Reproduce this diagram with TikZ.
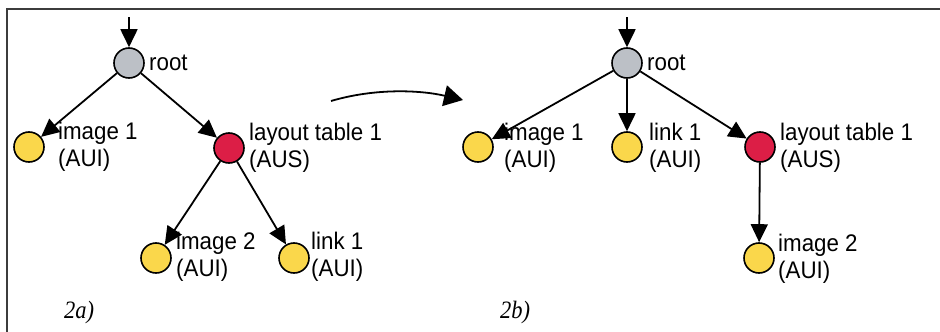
\documentclass[tikz,border=0pt]{standalone}
\usepackage{fontspec}
\usetikzlibrary{arrows.meta}
\newfontfamily\lblfont{Liberation Sans}[FakeStretch=0.93]
\newfontfamily\capfont{Liberation Serif}[FakeStretch=0.9]
\definecolor{nodegray}{RGB}{188,192,198}
\definecolor{nodered}{RGB}{220,30,70}
\definecolor{nodeyellow}{RGB}{250,215,75}
\definecolor{framegray}{RGB}{60,60,60}
\tikzset{
  vert/.style={circle, draw=black, line width=1.6pt, minimum size=30pt, inner sep=0pt},
  gvert/.style={vert, fill=nodegray},
  rvert/.style={vert, fill=nodered},
  yvert/.style={vert, fill=nodeyellow},
  lbl/.style={anchor=west, inner sep=0pt, align=left, font=\lblfont\fontsize{24}{27}\selectfont},
  captext/.style={inner sep=0pt, font=\capfont\itshape\fontsize{25}{27}\selectfont},
  edge/.style={line width=1.8pt, -{Triangle[length=18pt,width=17pt]}},
  bigedge/.style={line width=1.8pt, -{Triangle[length=19pt,width=21pt]}},
  frameline/.style={line width=1.6pt, draw=framegray}
}
\begin{document}
\begin{tikzpicture}[x=1pt,y=-1pt]
\useasboundingbox (0,0) rectangle (940,332);
% frame
\draw[frameline] (7,332) -- (7,9) -- (940,9);
% ---------- panel a ----------
\node[gvert] (ra) at (129,63) {};
\node[yvert] (i1a) at (29,147) {};
\node[rvert] (lta) at (229,148) {};
\node[yvert] (i2a) at (156,258) {};
\node[yvert] (l1a) at (294,258) {};
\coordinate (ina) at (129,17);
\node[lbl] (ra-l) at (149,63) {root};
\node[lbl] (i1a-l) at (58,147) {image 1\\(AUI)};
\node[lbl] (lta-l) at (249,148) {layout table 1\\(AUS)};
\node[lbl] (i2a-l) at (176,257) {image 2\\(AUI)};
\node[lbl] (l1a-l) at (311,257) {link 1\\(AUI)};
\draw[edge] (ina) -- (ra);
\draw[edge] (ra) -- (i1a);
\draw[edge] (ra) -- (lta);
\draw[edge] (lta) -- (i2a);
\draw[edge] (lta) -- (l1a);
\node[captext] (capa) at (79,312) {2a)};
% transform arrow
\coordinate (ts) at (331,101);
\coordinate (te) at (463,100);
\draw[bigedge] (ts) .. controls (375,88) and (420,90) .. (te);
% ---------- panel b ----------
\node[gvert] (rb) at (627,63) {};
\node[yvert] (i1b) at (478,147) {};
\node[yvert] (l1b) at (627,147) {};
\node[rvert] (ltb) at (760,147) {};
\node[yvert] (i2b) at (759,258) {};
\coordinate (inb) at (627,17);
\node[lbl] (rb-l) at (647,63) {root};
\node[lbl] (i1b-l) at (504,148) {image 1\\(AUI)};
\node[lbl] (l1b-l) at (649,148) {link 1\\(AUI)};
\begin{scope}
\clip (0,0) rectangle (913,332);
\node[lbl] (ltb-l) at (780,148) {layout table 1\\(AUS)};
\end{scope}
\node[lbl] (i2b-l) at (778,259) {image 2\\(AUI)};
\draw[edge] (inb) -- (rb);
\draw[edge] (rb) -- (i1b);
\draw[edge] (rb) -- (l1b);
\draw[edge] (rb) -- (ltb);
\draw[edge] (ltb) -- (i2b);
\node[captext] (capb) at (515,312) {2b)};
\end{tikzpicture}
\end{document}
